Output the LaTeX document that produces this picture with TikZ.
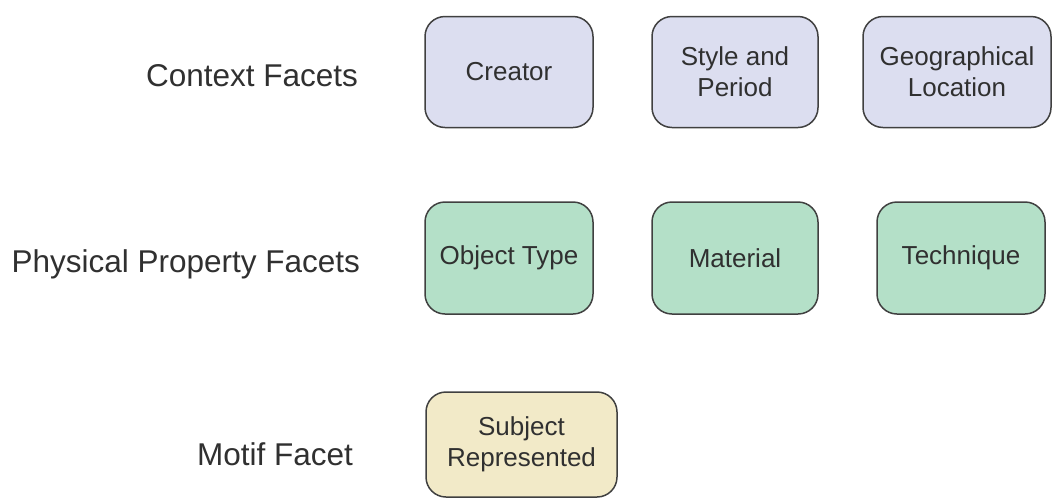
\documentclass[tikz,border=0pt]{standalone}
\usepackage{fontspec}
\setmainfont{Liberation Sans}
\usetikzlibrary{positioning}
\definecolor{contextfill}{HTML}{DCDEF0}
\definecolor{physfill}{HTML}{B4E0C8}
\definecolor{motiffill}{HTML}{F2EAC8}
\definecolor{edgegray}{HTML}{404040}
\definecolor{textgray}{HTML}{303030}
\tikzstyle{facet} = [rectangle, rounded corners=10pt, line width=0.75pt, draw=edgegray, text=textgray, align=center, font=\fontsize{13}{15.5}\selectfont, minimum height=55.5pt]
\tikzstyle{context} = [facet, fill=contextfill]
\tikzstyle{physical} = [facet, fill=physfill]
\tikzstyle{motif} = [facet, fill=motiffill]
\tikzstyle{rowlabel} = [anchor=east, text=textgray, font=\fontsize{15.75}{18}\selectfont]

\begin{document}
\begin{tikzpicture}[x=0.5pt, y=-0.5pt]
	\useasboundingbox (0,0) rectangle (1053,499);

		% Row labels
		\node (context_label) [rowlabel] at (365,76) {Context Facets};
		\node (physical_label) [rowlabel] at (367,264) {Physical Property Facets};
		\node (motif_label) [rowlabel] at (360,454) {Motif Facet};

		% Context facets
		\node (creator) [context, minimum width=84pt] at (509,72) {Creator};
		\node (style_period) [context, minimum width=83pt] at (735,72) {Style and\\Period};
		\node (geo_location) [context, minimum width=94pt] at (957,72) {Geographical\\Location};

		% Physical property facets
		\node (object_type) [physical, minimum width=84pt, minimum height=56pt] at (509,258) {Object Type};
		\node (material) [physical, minimum width=83pt, minimum height=56pt] at (735,258) {Material};
		\node (technique) [physical, minimum width=84pt, minimum height=56pt] at (961,258) {Technique};

		% Motif facet
		\node (subject) [motif, minimum width=95.5pt, minimum height=52.5pt] at (521.5,444.5) {Subject\\Represented};

\end{tikzpicture}
\end{document}
